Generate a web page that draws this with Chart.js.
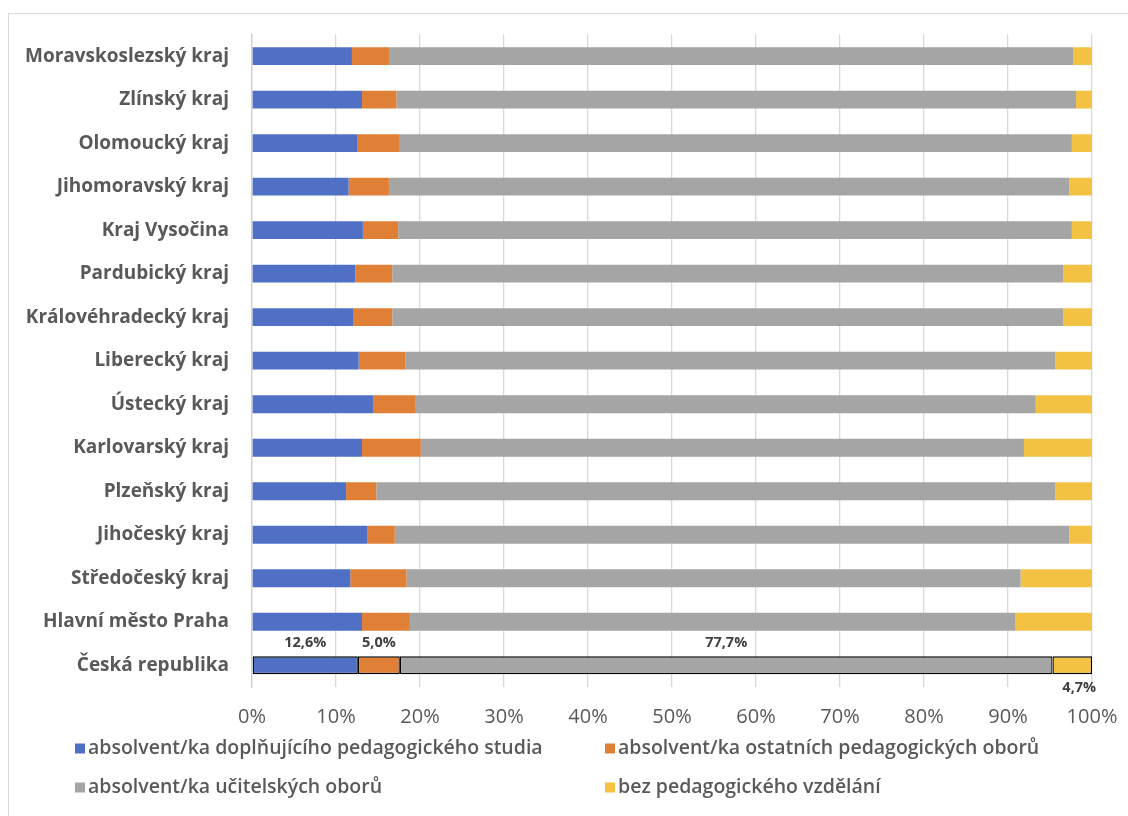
<!DOCTYPE html>
<html lang="cs">
<head>
<meta charset="utf-8">
<title>Pedagogická kvalifikace učitelů podle krajů</title>
<script src="https://cdn.jsdelivr.net/npm/chart.js@4.4.1/dist/chart.umd.min.js"></script>
<style>
  html, body { margin: 0; padding: 0; background: #ffffff; overflow: hidden; }
  #frame { position: absolute; left: 8px; top: 13px; width: 1140px; height: 820px; border: 1px solid #d9d9d9; box-sizing: border-box; }
  #chart { position: absolute; left: 0; top: 0; }
</style>
</head>
<body>
<div id="frame"></div>
<canvas id="chart" width="1128" height="816"></canvas>
<script>
// Kraje (top to bottom), last row is the national total
const regions = [
  'Moravskoslezský kraj', 'Zlínský kraj', 'Olomoucký kraj', 'Jihomoravský kraj',
  'Kraj Vysočina', 'Pardubický kraj', 'Královéhradecký kraj', 'Liberecký kraj',
  'Ústecký kraj', 'Karlovarský kraj', 'Plzeňský kraj', 'Jihočeský kraj',
  'Středočeský kraj', 'Hlavní město Praha', 'Česká republika'
];

// Shares in %, one value per region
const doplnujiciStudium = [11.9, 13.1, 12.5, 11.5, 13.2, 12.3, 12.1, 12.7, 14.4, 13.1, 11.2, 13.7, 11.7, 13.1, 12.6];
const ostatniObory      = [ 4.4,  4.1,  5.0,  4.8,  4.2,  4.4,  4.6,  5.6,  5.1,  7.0,  3.6,  3.3,  6.7,  5.7,  5.0];
const ucitelskeObory    = [81.5, 80.9, 80.1, 81.0, 80.2, 79.9, 79.9, 77.3, 73.8, 71.8, 80.8, 80.3, 73.1, 72.1, 77.7];
const bezVzdelani       = [ 2.2,  1.9,  2.4,  2.7,  2.4,  3.4,  3.4,  4.4,  6.7,  8.1,  4.4,  2.7,  8.5,  9.1,  4.7];

const seriesNames = [
  'absolvent/ka doplňujícího pedagogického studia',
  'absolvent/ka ostatních pedagogických oborů',
  'absolvent/ka učitelských oborů',
  'bez pedagogického vzdělání'
];
const seriesColors = ['#5070c6', '#e08037', '#a5a5a5', '#f4c243'];

const xTicks = [0, 10, 20, 30, 40, 50, 60, 70, 80, 90, 100];

const TOTAL_INDEX = regions.length - 1;
const FONT = '"Open Sans", Lato, "DejaVu Sans", sans-serif';
const TEXT_COLOR = '#595959';

function fmtPct(v) {
  return v.toFixed(1).replace('.', ',') + '%';
}

// Value labels on the national total bar
const totalLabels = {
  id: 'totalLabels',
  afterDatasetsDraw(chart) {
    const ctx = chart.ctx;
    ctx.save();
    ctx.font = 'bold 14.5px ' + FONT;
    ctx.fillStyle = '#404040';
    ctx.textAlign = 'center';
    ctx.textBaseline = 'middle';
    chart.data.datasets.forEach((ds, i) => {
      const el = chart.getDatasetMeta(i).data[TOTAL_INDEX];
      if (!el) return;
      const cx = (el.x + el.base) / 2;
      const text = fmtPct(ds.data[TOTAL_INDEX]);
      if (i < 3) {
        ctx.fillText(text, cx, el.y - 22);
      } else {
        ctx.fillText(text, cx + 7, el.y + 23);
      }
    });
    ctx.restore();
  }
};

// Two-column legend under the axis
const gridLegend = {
  id: 'gridLegend',
  afterDraw(chart) {
    const ctx = chart.ctx;
    const cols = [75, 605];
    const rows = [748.5, 787.5];
    ctx.save();
    ctx.font = '600 19.5px ' + FONT;
    ctx.textAlign = 'left';
    ctx.textBaseline = 'middle';
    chart.data.datasets.forEach((ds, i) => {
      const x = cols[i % 2];
      const y = rows[Math.floor(i / 2)];
      ctx.fillStyle = ds.backgroundColor;
      ctx.fillRect(x, y - 5, 10, 10);
      ctx.fillStyle = TEXT_COLOR;
      ctx.fillText(ds.label, x + 13, y);
    });
    ctx.restore();
  }
};

const datasets = [doplnujiciStudium, ostatniObory, ucitelskeObory, bezVzdelani].map((values, i) => ({
  label: seriesNames[i],
  data: values,
  backgroundColor: seriesColors[i],
  borderColor: '#000000',
  borderWidth: ctx => (ctx.dataIndex === TOTAL_INDEX ? 1.3 : 0),
  borderSkipped: false,
  categoryPercentage: 1.0,
  barPercentage: 0.41
}));

new Chart(document.getElementById('chart'), {
  type: 'bar',
  data: { labels: regions, datasets },
  plugins: [totalLabels, gridLegend],
  options: {
    indexAxis: 'y',
    responsive: false,
    animation: false,
    devicePixelRatio: 1,
    layout: { padding: { left: 0, right: 36, top: 33, bottom: 79 } },
    plugins: {
      legend: { display: false },
      tooltip: { enabled: false }
    },
    scales: {
      x: {
        stacked: true,
        min: 0,
        max: 100,
        afterBuildTicks(scale) {
          scale.ticks = xTicks.map(v => ({ value: v }));
        },
        afterFit(scale) {
          scale.height = 50;
          scale.paddingLeft = 0;
          scale.paddingRight = 0;
        },
        grid: { color: '#d9d9d9', lineWidth: 1.3, drawTicks: false },
        border: { display: false },
        ticks: {
          padding: 18,
          color: TEXT_COLOR,
          font: { family: FONT, size: 20 },
          callback: v => v + '%'
        }
      },
      y: {
        stacked: true,
        afterFit(scale) { scale.width = 252; },
        grid: { display: false, drawTicks: false },
        border: { display: true, color: '#d0d0d0', width: 1.3 },
        ticks: {
          padding: 23,
          color: TEXT_COLOR,
          font: { family: FONT, size: 19, weight: 'bold' }
        }
      }
    }
  }
});
</script>
</body>
</html>
